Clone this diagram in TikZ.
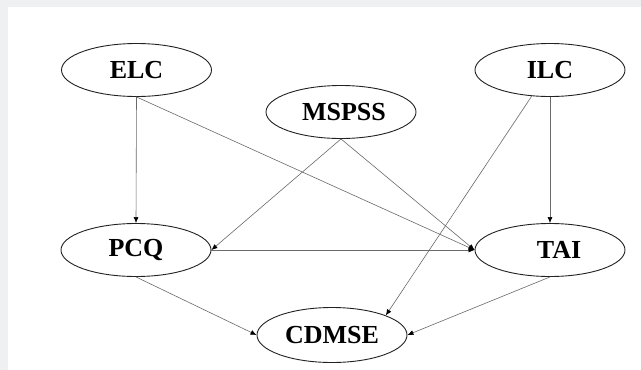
\documentclass[tikz,border=0pt]{standalone}
\usepackage{fontspec}
\setmainfont{Liberation Serif}
\usetikzlibrary{shapes.geometric,arrows.meta}
\definecolor{bggray}{HTML}{EFF0F2}
\definecolor{edgegray}{HTML}{6A6A6A}
\definecolor{outline}{HTML}{222222}
\tikzset{
  ell/.style={ellipse, draw=outline, line width=0.9pt, minimum width=150pt, minimum height=53pt, inner sep=0pt, font=\bfseries\fontsize{26}{28}\selectfont},
  conn/.style={draw=edgegray, line width=0.6pt, -{Latex[length=6pt,width=5pt,color=black]}}
}
\begin{document}
\begin{tikzpicture}[x=1pt,y=-1pt]
\useasboundingbox (0,0) rectangle (641,370);
\fill[bggray] (0,0) rectangle (641,370);
\fill[white] (8,7) rectangle (641,370);
\node[ell] (ELC) at (136.5,70) {ELC};
\node[ell] (MSPSS) at (341,112) {\hspace{6pt}MSPSS};
\node[ell] (ILC) at (550,70) {ILC};
\node[ell] (PCQ) at (136,250) {PCQ};
\node[ell] (TAI) at (550,250) {\hspace{18pt}TAI};
\node[ell, minimum height=55pt] (CDMSE) at (332,335) {CDMSE};
\draw[conn] (ELC.south) -- (PCQ.north);
\draw[conn] (ELC.south) -- (TAI.west);
\draw[conn] (MSPSS.south) -- (PCQ.east);
\draw[conn] (MSPSS.south) -- (TAI.west);
\draw[conn] (ILC.-125) -- (CDMSE.20);
\draw[conn] (ILC.south) -- (TAI.north);
\draw[conn] (PCQ.east) -- (TAI.west);
\draw[conn] (PCQ.south) -- (CDMSE.west);
\draw[conn] (TAI.south) -- (CDMSE.east);
\end{tikzpicture}
\end{document}
